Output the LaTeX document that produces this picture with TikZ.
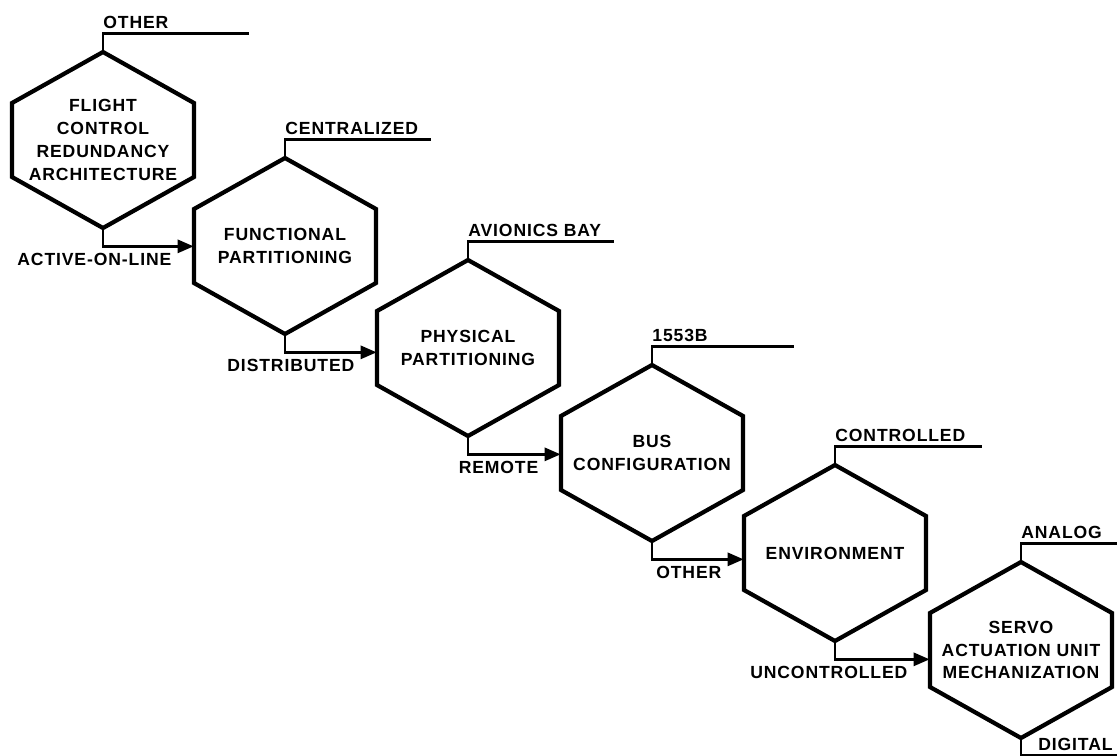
\documentclass[tikz,border=0pt]{standalone}
\usepackage{fontspec}
\newfontfamily\diafont[LetterSpace=5]{Liberation Sans}
\usetikzlibrary{arrows.meta}
\begin{document}
\begin{tikzpicture}[x=0.02cm,y=-0.02cm,
    hexnode/.style={minimum width=3.64cm,minimum height=3.52cm,inner sep=0pt,align=center,
      font=\diafont\bfseries\fontsize{10}{13}\selectfont},
    hexline/.style={line width=2.4pt,line join=miter},
    tagline/.style={line width=1.6pt},
    flow/.style={line width=1.6pt,-{Triangle[length=0.32cm,width=0.26cm]}},
    tag/.style={inner sep=0pt,font=\diafont\bfseries\fontsize{10}{13}\selectfont}]
    \useasboundingbox (0,0) rectangle (1117,755);
    \clip (0,0) rectangle (1117,755);
    % decision hexagons with their upper branch
    \foreach \n/\x/\y/\txt/\top/\len in {
        1/103/140/{FLIGHT\\CONTROL\\REDUNDANCY\\ARCHITECTURE}/OTHER/146,
        2/285/246/{FUNCTIONAL\\PARTITIONING}/CENTRALIZED/146,
        3/468/348/{PHYSICAL\\PARTITIONING}/AVIONICS BAY/146,
        4/652/453/{BUS\\CONFIGURATION}/1553B/142,
        5/835/553/{ENVIRONMENT}/CONTROLLED/147,
        6/1021/650/{SERVO\\ACTUATION UNIT\\MECHANIZATION}/ANALOG/110}{
      \node[hexnode] (h\n) at (\x,\y) {\txt};
      \draw[hexline] (\x-91,\y-37) -- (\x,\y-88) -- (\x+91,\y-37) -- (\x+91,\y+37)
        -- (\x,\y+88) -- (\x-91,\y+37) -- cycle;
      \draw[tagline] (h\n.north) -- ++(0,-18) coordinate (c\n) -- ++(\len,0);
      \node[tag,anchor=base west] (t\n) at ([yshift=0.1cm]c\n) {\top};
    }
    % lower branch into the next hexagon
    \foreach \a/\b/\lbl in {h1/h2/ACTIVE-ON-LINE, h2/h3/DISTRIBUTED, h3/h4/REMOTE,
        h4/h5/OTHER, h5/h6/UNCONTROLLED}{
      \path (\a.south) ++(0,18) coordinate (s\a);
      \coordinate (e\a) at (s\a -| \b.west);
      \draw[flow] (\a.south) -- (s\a) -- (e\a);
      \node[tag,anchor=north east] (l\a) at ([xshift=-0.44cm,yshift=-0.14cm]e\a) {\lbl};
    }
    \draw[tagline] (h6.south) -- ++(0,17) coordinate (d6) -- ++(100,0);
    \node[tag,anchor=base west] (t7) at ([xshift=0.34cm,yshift=0.1cm]d6) {DIGITAL};
\end{tikzpicture}
\end{document}
